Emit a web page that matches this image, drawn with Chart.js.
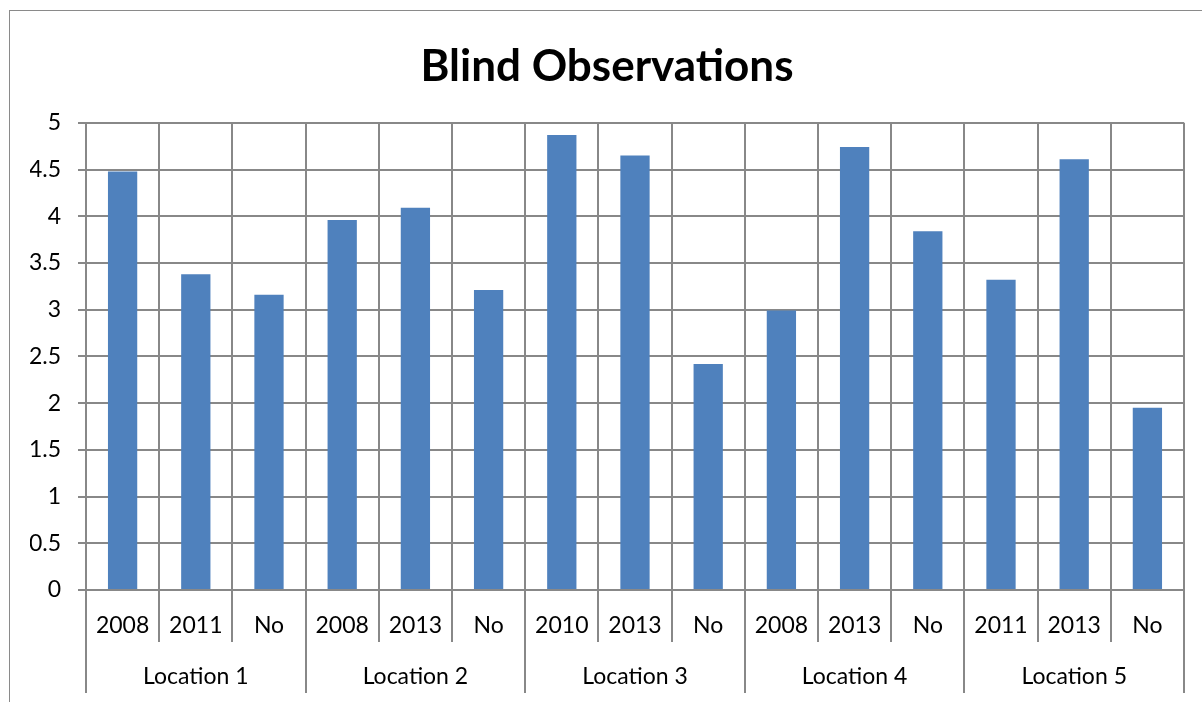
<!DOCTYPE html>
<html>
<head>
<meta charset="utf-8">
<script src="https://cdn.jsdelivr.net/npm/chart.js@4.4.0/dist/chart.umd.min.js"></script>
<style>
    html, body { margin: 0; padding: 0; background: #fff; overflow: hidden; }
    #frame { position: absolute; left: 9px; top: 10px; width: 1400px; height: 900px; border: 1.5px solid #8a8a8a; }
    #myChart { position: absolute; left: 0; top: 0; }
</style>
</head>
<body>
<div id="frame"></div>
<canvas id="myChart" width="1202" height="702"></canvas>
<script>
// data
var years = ['2008', '2011', 'No', '2008', '2013', 'No', '2010', '2013', 'No', '2008', '2013', 'No', '2011', '2013', 'No'];
var locations = ['Location 1', 'Location 2', 'Location 3', 'Location 4', 'Location 5'];
var observations = [4.48, 3.38, 3.16, 3.96, 4.09, 3.21, 4.87, 4.65, 2.42, 2.99, 4.74, 3.84, 3.32, 4.61, 1.95];
var yTicks = ['0', '0.5', '1', '1.5', '2', '2.5', '3', '3.5', '4', '4.5', '5'];

var gridColor = '#888888';
var font = { family: 'Lato', size: 23 };

var ctx = document.getElementById('myChart').getContext('2d');

var chart = new Chart(ctx, {
    type: 'bar',
    data: {
        labels: years,
        datasets: [{
            label: 'Blind Observations',
            data: observations,
            backgroundColor: '#4F81BD',
            borderWidth: 0,
            categoryPercentage: 1,
            barPercentage: 0.4
        }]
    },
    options: {
        responsive: false,
        animation: false,
        devicePixelRatio: 1,
        layout: {
            padding: { left: 30, right: 18, top: 0, bottom: 9 }
        },
        plugins: {
            legend: { display: false },
            tooltip: { enabled: false },
            title: {
                display: true,
                text: 'Blind Observations',
                color: '#000',
                font: { family: 'Lato', size: 44, weight: 'bold' },
                padding: { top: 40, bottom: 30 }
            }
        },
        scales: {
            x: {
                position: 'bottom',
                weight: 1,
                offset: true,
                grid: { offset: true, color: gridColor, lineWidth: 2, tickLength: 52, tickColor: gridColor },
                border: { color: gridColor, width: 2 },
                ticks: { color: '#000', font: font, padding: -30, maxRotation: 0, autoSkip: false },
                afterFit: function(scale) { scale.height = 52; }
            },
            x2: {
                type: 'category',
                labels: locations,
                position: 'bottom',
                weight: 2,
                offset: true,
                grid: { offset: true, drawOnChartArea: false, color: gridColor, lineWidth: 2, tickLength: 51 },
                border: { display: false },
                ticks: { color: '#000', font: font, padding: -30, maxRotation: 0, autoSkip: false },
                afterFit: function(scale) { scale.height = 51; }
            },
            y: {
                min: 0,
                max: 5,
                grid: { color: gridColor, lineWidth: 2, tickLength: 8 },
                border: { color: gridColor, width: 2 },
                ticks: {
                    stepSize: 0.5,
                    color: '#000',
                    font: font,
                    padding: 17,
                    callback: function(value, index) { return yTicks[index]; }
                },
                afterFit: function(scale) { scale.width = 56; }
            }
        }
    }
});
</script>
</body>
</html>
